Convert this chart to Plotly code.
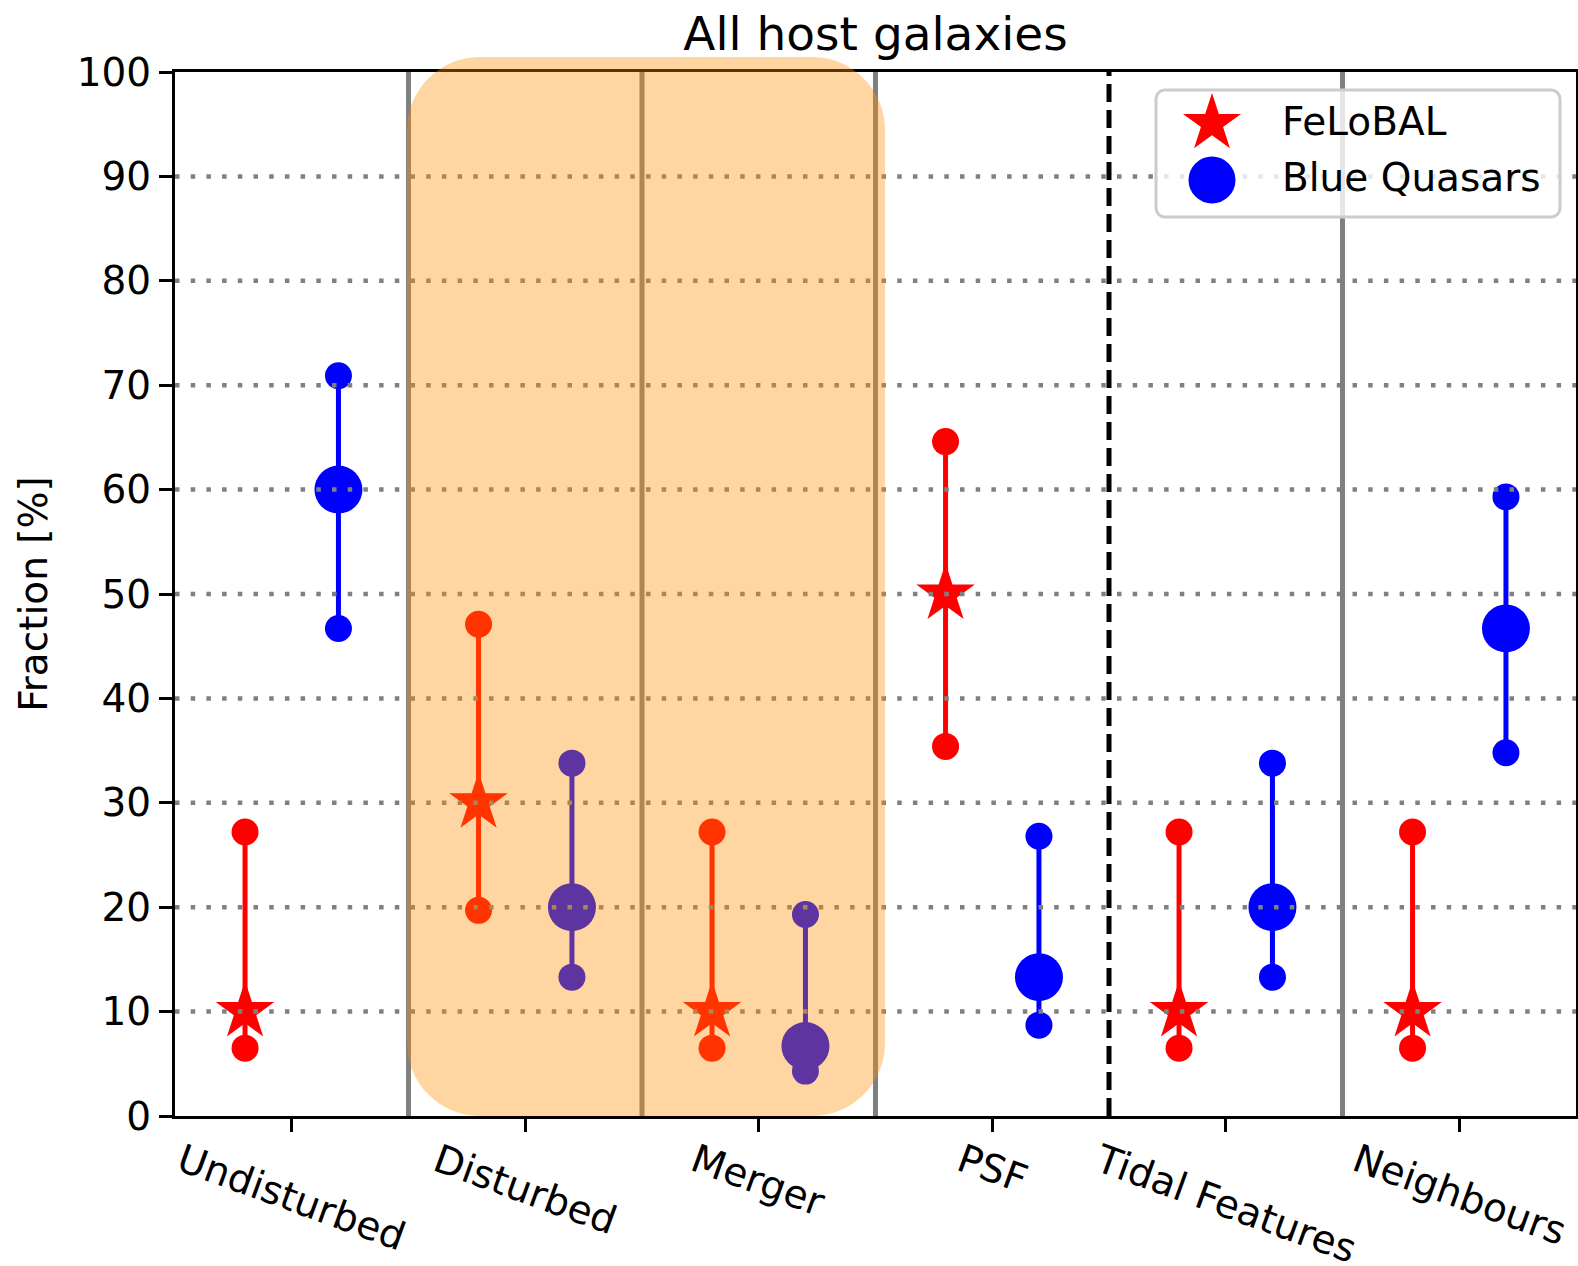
import math
import plotly.graph_objects as go

# ---- data -----------------------------------------------------------------
categories = ["Undisturbed", "Disturbed", "Merger", "PSF", "Tidal Features", "Neighbours"]

felobal_frac = [10, 30, 10, 50, 10, 10]
felobal_lo = [6.5, 19.7, 6.5, 35.4, 6.5, 6.5]
felobal_hi = [27.2, 47.1, 27.2, 64.6, 27.2, 27.2]

blue_frac = [60, 20, 6.7, 13.3, 20, 46.7]
blue_lo = [46.7, 13.3, 4.3, 8.7, 13.3, 34.8]
blue_hi = [70.9, 33.8, 19.3, 26.8, 33.8, 59.3]

y_ticks = list(range(0, 101, 10))

# ---- geometry ---------------------------------------------------------------
W, H = 1578, 1266
M = dict(l=175, r=2, t=72, b=150)
PW = W - M["l"] - M["r"]
PH = H - M["t"] - M["b"]
FONT = "DejaVu Sans"
FS = 39


def px_to_paper(px, py):
    return (px - M["l"]) / PW, (H - M["b"] - py) / PH


def rounded_rect(x0, y0, x1, y1, rx, ry):
    k = 0.5523
    return (
        f"M{x0 + rx},{y0} L{x1 - rx},{y0} "
        f"C{x1 - rx + k * rx},{y0} {x1},{y0 + ry - k * ry} {x1},{y0 + ry} "
        f"L{x1},{y1 - ry} "
        f"C{x1},{y1 - ry + k * ry} {x1 - rx + k * rx},{y1} {x1 - rx},{y1} "
        f"L{x0 + rx},{y1} "
        f"C{x0 + rx - k * rx},{y1} {x0},{y1 - ry + k * ry} {x0},{y1 - ry} "
        f"L{x0},{y0 + ry} "
        f"C{x0},{y0 + ry - k * ry} {x0 + rx - k * rx},{y0} {x0 + rx},{y0} Z"
    )


def star_path(R, ratio=0.381966):
    pts = []
    for i in range(10):
        a = math.radians(90 + 36 * i)
        r = R if i % 2 == 0 else R * ratio
        pts.append((r * math.cos(a), r * math.sin(a)))
    return "M" + " L".join(f"{x:.2f},{y:.2f}" for x, y in pts) + " Z"


fig = go.Figure()

x_pos = list(range(len(categories)))
x_fe = [x - 0.2 for x in x_pos]
x_bq = [x + 0.2 for x in x_pos]


def add_series(x, c, lo, hi, color, symbol, size, name):
    xs, ys = [], []
    for xi, l, h in zip(x, lo, hi):
        xs += [xi, xi, None]
        ys += [l, h, None]
    fig.add_trace(go.Scatter(x=xs, y=ys, mode="lines", line=dict(color=color, width=5),
                             showlegend=False, hoverinfo="skip"))
    fig.add_trace(go.Scatter(x=x + x, y=lo + hi, mode="markers",
                             marker=dict(color=color, size=27, line_width=0),
                             showlegend=False, hoverinfo="skip"))
    fig.add_trace(go.Scatter(x=x, y=c, mode="markers", name=name,
                             marker=dict(symbol=symbol, color=color, size=size, line_width=0),
                             showlegend=False))


add_series(x_fe, felobal_frac, felobal_lo, felobal_hi, "#FF0000", "star", 44, "FeLoBAL")
add_series(x_bq, blue_frac, blue_lo, blue_hi, "#0000FF", "circle", 48, "Blue Quasars")

shapes = []
# dotted horizontal grid, drawn over the markers
for v in y_ticks[1:-1]:
    shapes.append(dict(type="line", xref="paper", yref="y", x0=0, x1=1, y0=v, y1=v,
                       line=dict(color="gray", width=4.5, dash="4.5px,11.2px"), layer="above"))
# category separators
for xv in [0.5, 1.5, 2.5, 4.5]:
    shapes.append(dict(type="line", xref="x", yref="y", x0=xv, x1=xv, y0=0, y1=100,
                       line=dict(color="gray", width=5), layer="above"))
shapes.append(dict(type="line", xref="x", yref="y", x0=3.5, x1=3.5, y0=0, y1=100,
                   line=dict(color="black", width=5, dash="18px,8px"), layer="above"))

# highlight band over Disturbed + Merger
ox0, oy1 = px_to_paper(407, 57)
ox1, oy0 = px_to_paper(885, 1116)
shapes.append(dict(type="path", xref="paper", yref="paper",
                   path=rounded_rect(ox0, oy0, ox1, oy1, 73 / PW, 73 / PH),
                   fillcolor="#FF8C00", opacity=0.37, line=dict(width=0), layer="above"))

# legend box
lx0, ly1 = px_to_paper(1156, 90)
lx1, ly0 = px_to_paper(1560, 217)
shapes.append(dict(type="path", xref="paper", yref="paper",
                   path=rounded_rect(lx0, ly0, lx1, ly1, 9 / PW, 9 / PH),
                   fillcolor="rgba(255,255,255,0.8)", line=dict(color="rgb(204,204,204)", width=3),
                   layer="above"))
sx, sy = px_to_paper(1212, 123.5)
shapes.append(dict(type="path", xref="paper", yref="paper", xsizemode="pixel", ysizemode="pixel",
                   xanchor=sx, yanchor=sy, path=star_path(30.5),
                   fillcolor="#FF0000", line=dict(width=0), layer="above"))
cx, cy = px_to_paper(1212, 180)
shapes.append(dict(type="circle", xref="paper", yref="paper", xsizemode="pixel", ysizemode="pixel",
                   xanchor=cx, yanchor=cy, x0=-23.5, x1=23.5, y0=-23.5, y1=23.5,
                   fillcolor="#0000FF", line=dict(width=0), layer="above"))

annotations = []
for xi, lab in zip(x_pos, categories):
    annotations.append(dict(x=xi, y=0, xref="x", yref="paper", text=lab, showarrow=False,
                            textangle=20, xanchor="center", yanchor="top", yshift=-17,
                            font=dict(family=FONT, size=FS, color="black")))
tx, ty = px_to_paper(1280, 122)
annotations.append(dict(x=tx, y=ty, xref="paper", yref="paper", text="FeLoBAL", showarrow=False,
                        xanchor="left", yanchor="middle", font=dict(family=FONT, size=FS, color="black")))
tx, ty = px_to_paper(1280, 178)
annotations.append(dict(x=tx, y=ty, xref="paper", yref="paper", text="Blue Quasars", showarrow=False,
                        xanchor="left", yanchor="middle", font=dict(family=FONT, size=FS, color="black")))

fig.update_layout(
    width=W, height=H,
    margin=dict(l=M["l"], r=M["r"], t=M["t"], b=M["b"], autoexpand=False),
    paper_bgcolor="white", plot_bgcolor="white",
    font=dict(family=FONT, size=FS, color="black"),
    title=dict(text="All host galaxies", x=M["l"] / W + PW / W / 2, xanchor="center",
               y=1 - 34 / H, yanchor="middle", yref="container",
               font=dict(family=FONT, size=47, color="black")),
    shapes=shapes, annotations=annotations, showlegend=False,
)
fig.update_xaxes(range=[-0.5, 5.5], tickvals=x_pos, showticklabels=False, showgrid=False,
                 zeroline=False, showline=True, mirror=True, linecolor="black", linewidth=3,
                 ticks="outside", ticklen=13, tickwidth=3, tickcolor="black")
fig.update_yaxes(range=[0, 100], tickvals=y_ticks, showgrid=False, zeroline=False,
                 showline=True, mirror=True, linecolor="black", linewidth=3,
                 ticks="outside", ticklen=13, tickwidth=3, tickcolor="black",
                 tickfont=dict(family=FONT, size=FS, color="black"),
                 title=dict(text="Fraction [%]", standoff=18, font=dict(family=FONT, size=FS, color="black")))

fig.write_html("out.html")
